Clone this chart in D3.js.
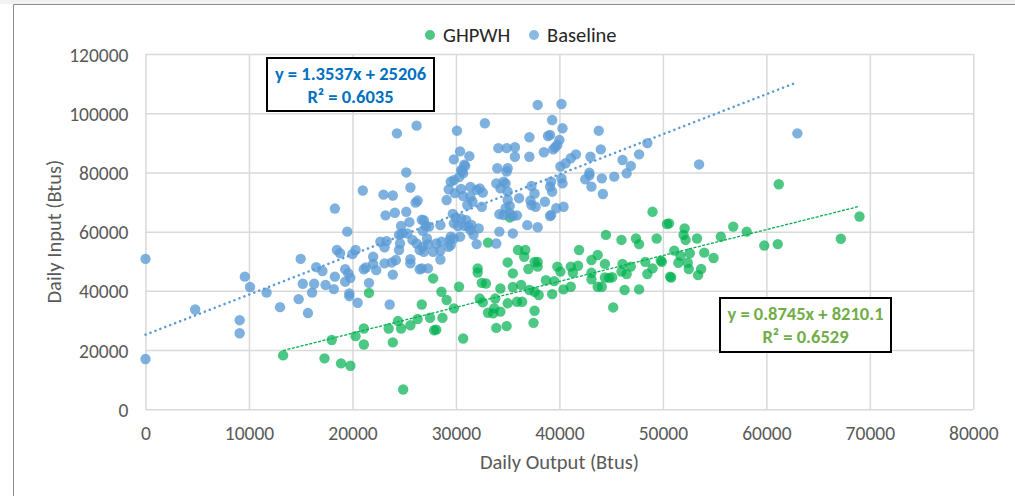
<!DOCTYPE html>
<html>
<head>
<meta charset="utf-8">
<script src="https://cdn.jsdelivr.net/npm/d3@7"></script>
<style>
  body { margin: 0; background: #fff; }
  svg text { font-family: Carlito, Calibri, Lato, sans-serif; }
</style>
</head>
<body>
<svg id="chart" width="1015" height="496"></svg>
<script>
// series names, legend order
var seriesNames = ["GHPWH", "Baseline"];

// tick labels
var xTicks = [0, 10000, 20000, 30000, 40000, 50000, 60000, 70000, 80000];
var yTicks = [0, 20000, 40000, 60000, 80000, 100000, 120000];

// trendline coefficients (as printed in the chart)
var baselineTrend = {slope: 1.3537, intercept: 25206, label: "y = 1.3537x + 25206", r2: "R² = 0.6035"};
var ghpwhTrend = {slope: 0.8745, intercept: 8210.1, label: "y = 0.8745x + 8210.1", r2: "R² = 0.6529"};

// GHPWH points [daily output, daily input]
var ghpwhPoints = [
  [13300,18200],[17300,17200],[18900,15500],[19800,14700],[18000,23400],[20300,24700],[21100,27300],
  [21100,21900],[21600,39300],[23500,27300],[23900,22600],[24400,29800],[24700,27300],[24900,6700],
  [25600,28400],[26300,30500],[26700,35400],[27800,44200],[28600,39700],[29100,36900],[29800,34100],
  [27500,30900],[28700,30900],[27900,26700],[28100,26900],[30700,23900],[30300,41400],[32100,47600],
  [32100,46200],[32500,42700],[32900,42500],[32300,37400],[32600,36100],[33100,56300],[33100,32600],
  [33600,32400],[33700,34100],[33800,37400],[34300,40800],[34300,33000],[33900,27500],[34900,28100],
  [35000,35800],[35000,49600],[35500,45900],[35500,41300],[35900,36300],[36400,36300],[36300,42000],
  [36000,53800],[36700,53800],[36600,51500],[37000,47400],[37100,40300],[37600,49800],[37900,49800],
  [37900,48200],[37600,39700],[38000,38600],[37600,33300],[37500,29200],[38700,43600],[39300,38900],
  [39500,43300],[39800,48200],[40100,46500],[40400,40500],[41100,41400],[41100,48200],[41300,46100],
  [41800,48500],[41900,53800],[43100,50400],[43700,52100],[43100,46100],[43100,43900],[43700,41400],
  [44100,41400],[44400,49100],[44500,58900],[44400,44500],[44800,44400],[45100,44600],[45200,34400],
  [46000,57200],[46000,46500],[46100,49100],[46500,45700],[46900,48200],[46300,40300],[47700,40500],
  [47400,57700],[47700,55800],[48300,49800],[48500,45700],[49000,47600],[49000,66700],[49400,57700],
  [49800,50200],[50400,62600],[50700,44800],[35200,64800],
  [61200,76000],[69000,65100],[67200,57600],[61100,55800],[59800,55300],[58100,60000],[56800,61700],
  [55600,58300],[54000,52900],[54900,51100],[53300,57700],[52100,61100],[52200,57200],[52000,58900],
  [50600,62800],[51100,53600],[52600,52700],[51700,51800],[51500,49500],[52400,49500],[52500,47400],
  [53700,47400],[53400,45300],[50800,44500],[49900,49800]
];

// Baseline points [daily output, daily input]
var baselinePoints = [
  [0,50800],[0,17000],[4800,33700],[9100,30100],[9100,25700],[9600,44800],[10100,41300],[11700,39400],
  [13000,34500],[15000,50800],[14800,37200],[15700,32500],[15200,42400],[16100,39400],[16300,42400],
  [16500,48000],[17100,46700],[17400,42000],[18200,40600],[18300,67800],[18300,44800],[18500,53800],
  [18800,52700],[19300,47300],[19300,43100],[19500,60000],[19600,45900],[19800,44400],[19700,39100],
  [19700,38200],[20000,52400],[20300,53800],[20500,36000],[21000,73900],[21100,47300],[21300,47900],
  [21600,42700],[22000,51500],[22000,49100],[22300,47000],[22700,56600],[23000,72500],[23200,65500],
  [23300,56800],[23100,54700],[23100,49300],[23600,35400],[23800,49600],[23900,72200],[23900,45500],
  [24100,66400],[24200,50400],[24300,93200],[24500,58900],[24700,61900],[24600,56000],[24500,53800],
  [24800,59400],[25200,80000],[25200,66700],[25300,59400],[25600,74900],[25600,49300],[25600,50700],
  [26100,69800],[26300,70500],[26200,95800],[25500,63200],[25800,57200],[26200,56000],[26500,53800],
  [26500,47300],
  [30100,94100],[32800,96600],[37900,102800],[40200,103100],[39300,97700],[40300,94900],[43800,94100],
  [37100,91900],[38900,92300],[39100,92700],[40000,91000],[39800,89300],[39600,88500],[39400,87800],
  [38500,86800],[37100,85300],[35700,85300],[34100,88200],[34900,88200],[35700,88500],[30400,87100],
  [29800,84400],[31300,85500],[30800,82600],[30600,80500],[30300,78400],[29500,76900],[29300,74300],
  [29100,70700],[29900,73000],[30500,74400],[30700,72000],[31400,75100],[31400,71800],[31100,69000],
  [32300,74600],[32600,73200],[32500,68400],[34000,81400],[35000,81400],[34900,80300],[33900,76300],
  [34600,76900],[34800,76300],[34300,74600],[35000,73500],[36100,71300],[37300,75400],[37600,72900],
  [37200,70500],[37300,69000],[37700,68400],[38600,70100],[39100,75200],[39300,73500],[39200,76900],
  [40200,78000],[40300,76300],[40100,82000],[40600,83100],[41100,84800],[41600,86100],[43000,85300],
  [44000,87800],[46100,84200],[46900,82200],[47700,86100],[48500,89900],[46500,79700],[45300,78600],
  [44100,78000],[43100,75200],[44200,72700],[42500,77700],[42900,79000],[42900,79900],[35000,70700],
  [34800,67900],[35200,66200],[35500,65300],[35900,65500],[34200,65900],[34600,65600],[35200,68700],
  [34200,60000],[33900,56000],[35500,59400],[36900,62200],[37900,61500],[39100,65300],[39200,65600],
  [39700,67900],[40400,68400],[32000,55800],[32200,61100],[31700,58900],[31200,61700],[31400,60500],
  [30800,62000],[30200,61900],[29700,66000],[29800,62800],[29500,58300],[29400,57200],[29300,54900],
  [29500,55500],[29800,57700],[30400,58300],[28600,56600],[28500,53600],[28500,50600],[27800,53200],
  [28100,56000],[27200,57700],[27300,55800],[26800,54900],[26900,53200],[27300,47600],[26700,47600],
  [27100,61900],[27400,61700],[28500,62200],[26900,63900],[26700,64000],[26800,60300],[29800,77400],
  [30700,79700],[30900,82200],[30500,80800],[31600,70100],[32000,74100],[30500,64500],[31000,63900],
  [30000,64700],[31500,62300],
  [53500,82700],[63000,93200]
];

var colors = {GHPWH: "#00b050", Baseline: "#5b9bd5"};

var svg = d3.select("#chart"),
    margin = {top: 54, right: 41.7, bottom: 86.7, left: 145.5},
    width = +svg.attr("width") - margin.left - margin.right,
    height = +svg.attr("height") - margin.top - margin.bottom;

// chart frame (screenshot edge)
svg.append("rect").attr("x", 0).attr("y", 0).attr("width", 1015).attr("height", 4).attr("fill", "#f2f2f2");
svg.append("path").attr("d", "M13.5,496V4.5H1015").attr("fill", "none").attr("stroke", "#8c8c8c").attr("stroke-width", 1);

var x = d3.scaleLinear().domain([0, 80000]).range([0, width]),
    y = d3.scaleLinear().domain([0, 120000]).range([height, 0]);

var g = svg.append("g")
    .attr("transform", "translate(" + margin.left + "," + margin.top + ")");

// gridlines
g.append("g")
    .attr("class", "grid")
    .attr("transform", "translate(0," + height + ")")
    .call(d3.axisBottom(x).tickValues(xTicks).tickSize(-height).tickFormat(""))
    .call(function(s) { s.select(".domain").remove(); });
g.append("g")
    .attr("class", "grid")
    .call(d3.axisLeft(y).tickValues(yTicks).tickSize(-width).tickFormat(""))
    .call(function(s) { s.select(".domain").remove(); });
g.selectAll(".grid line").attr("stroke", "#d9d9d9").attr("stroke-width", 1.5);

// axis labels
var xAxis = g.append("g")
    .attr("transform", "translate(0," + height + ")")
    .call(d3.axisBottom(x).tickValues(xTicks).tickSize(0).tickFormat(d3.format("d")));
xAxis.selectAll("text").attr("y", 31).attr("dy", null);
var yAxis = g.append("g")
    .call(d3.axisLeft(y).tickValues(yTicks).tickSize(0).tickPadding(17).tickFormat(d3.format("d")));
yAxis.selectAll("text").attr("dy", "0.36em");
[xAxis, yAxis].forEach(function(a) {
  a.select(".domain").remove();
  a.selectAll("text").attr("fill", "#595959").style("font-size", "19.5px");
});

// points: GHPWH under Baseline
var series = [
  {name: "GHPWH", points: ghpwhPoints, opacity: 0.7},
  {name: "Baseline", points: baselinePoints, opacity: 0.78}
];
series.forEach(function(s) {
  g.append("g").selectAll("circle")
    .data(s.points)
    .enter().append("circle")
      .attr("cx", function(d) { return x(d[0]); })
      .attr("cy", function(d) { return y(d[1]); })
      .attr("r", 5.2)
      .attr("fill", colors[s.name])
      .attr("fill-opacity", s.opacity);
});

// trendlines
var line = d3.line().x(function(d) { return x(d[0]); }).y(function(d) { return y(d[1]); });
function trendPts(t, pts) {
  var ext = d3.extent(pts, function(d) { return d[0]; });
  return ext.map(function(v) { return [v, t.slope * v + t.intercept]; });
}
g.append("path")
    .datum(trendPts(baselineTrend, baselinePoints))
    .attr("d", line)
    .attr("fill", "none")
    .attr("stroke", colors.Baseline)
    .attr("stroke-width", 2.5)
    .attr("stroke-linecap", "round")
    .attr("stroke-dasharray", "0.1,5.2");
g.append("path")
    .datum(trendPts(ghpwhTrend, ghpwhPoints))
    .attr("d", line)
    .attr("fill", "none")
    .attr("stroke", colors.GHPWH)
    .attr("stroke-width", 1.3)
    .attr("stroke-dasharray", "3,1.5");

// equation boxes
function eqBox(t, bx, by, bw, bh, color) {
  var b = svg.append("g").attr("transform", "translate(" + bx + "," + by + ")");
  b.append("rect").attr("width", bw).attr("height", bh)
    .attr("fill", "#fff").attr("stroke", "#000").attr("stroke-width", 2);
  b.append("text").attr("x", bw / 2).attr("y", 22)
    .attr("text-anchor", "middle").attr("fill", color)
    .style("font-size", "18.5px").style("font-weight", "bold").text(t.label);
  b.append("text").attr("x", bw / 2).attr("y", 44.5)
    .attr("text-anchor", "middle").attr("fill", color)
    .style("font-size", "18.5px").style("font-weight", "bold").text(t.r2);
}
eqBox(baselineTrend, 267, 58, 167, 53, "#0070c0");
eqBox(ghpwhTrend, 720, 298, 171, 54, "#70ad47");

// axis titles
svg.append("text")
    .attr("x", margin.left + x(40000))
    .attr("y", 469)
    .attr("text-anchor", "middle")
    .attr("fill", "#595959")
    .style("font-size", "20.5px")
    .text("Daily Output (Btus)");
svg.append("text")
    .attr("transform", "translate(61," + (margin.top + height / 2) + ") rotate(-90)")
    .attr("text-anchor", "middle")
    .attr("fill", "#595959")
    .style("font-size", "20.5px")
    .text("Daily Input (Btus)");

// legend
var legend = svg.append("g");
var legendPos = [430, 534];
seriesNames.forEach(function(name, i) {
  legend.append("circle")
    .attr("cx", legendPos[i]).attr("cy", 35).attr("r", 5)
    .attr("fill", colors[name]).attr("fill-opacity", 0.7);
  legend.append("text")
    .attr("x", legendPos[i] + 13).attr("y", 42)
    .attr("fill", "#262626")
    .style("font-size", "20.5px")
    .text(name);
});
</script>
</body>
</html>
